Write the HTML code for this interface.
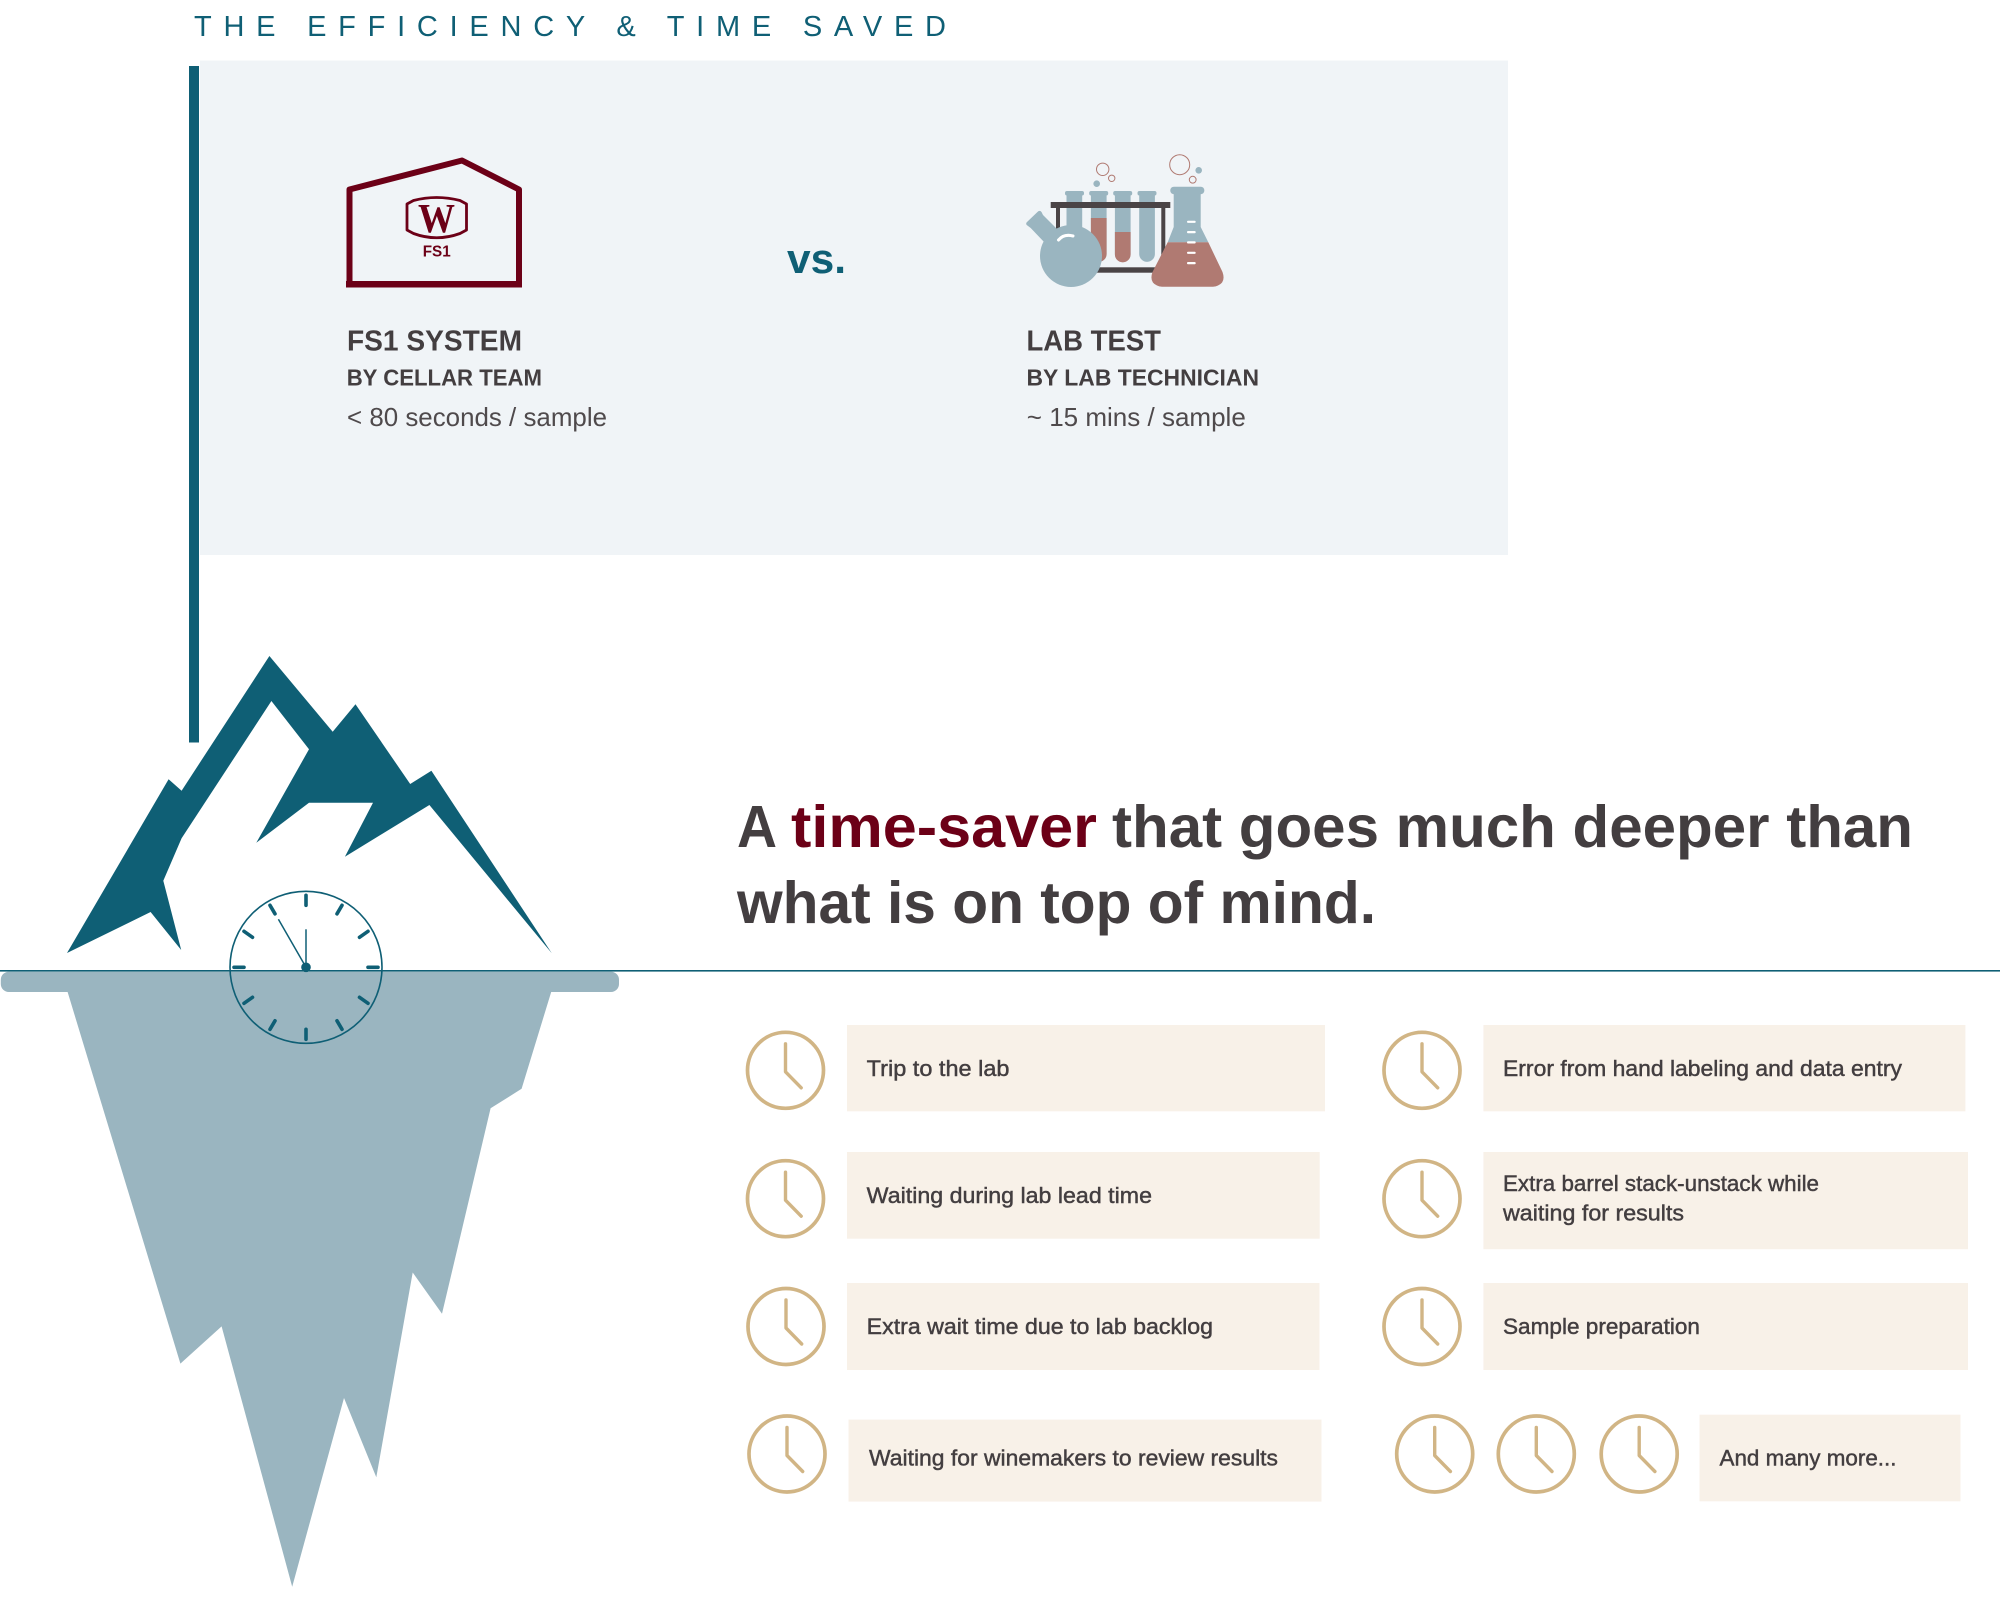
<!DOCTYPE html>
<html lang="en">
<head>
<meta charset="utf-8">
<title>The Efficiency &amp; Time Saved</title>
<style>
html,body{margin:0;padding:0;background:#fff;width:2000px;height:1600px;overflow:hidden}
svg{display:block;font-family:"Liberation Sans",sans-serif}
.ht{font-weight:700;font-size:59px;fill:#433e40}
.li{font-size:22px;fill:#433e40;stroke:#433e40;stroke-width:.45}
.h1{font-weight:700;font-size:29px;fill:#433e40}
.h2{font-weight:700;font-size:23px;fill:#433e40}
.h3{font-size:26px;fill:#4f4a4c}
</style>
</head>
<body>
<svg xmlns="http://www.w3.org/2000/svg" width="2000" height="1600" viewBox="0 0 2000 1600">
<defs>
<g id="ck" fill="none" stroke="#d1b585" stroke-linecap="round" stroke-linejoin="round">
<circle r="38" stroke-width="3.7"/>
<polyline points="0,-26.5 0,1.5 15.7,17.5" stroke-width="3.4"/>
</g>
</defs>

<text x="194" y="36" font-size="29" fill="#0f5f75" textLength="752" lengthAdjust="spacing">THE EFFICIENCY &amp; TIME SAVED</text>
<rect x="200" y="60.5" width="1308" height="494.5" fill="#f0f4f7"/>
<rect x="189" y="66" width="10" height="676.5" fill="#0f5f75"/>

<!-- FS1 house -->
<g fill="none" stroke="#6c0017" stroke-linejoin="round">
<polyline points="349.5,284 349.5,189.5 462,160.5 519,189.5 519,284" stroke-width="6"/>
<path d="M407,204 L413.5,200.5 Q436.5,194.5 460,200.5 L466.5,204 V230 L460,233.5 Q436.5,242 413.5,233.5 L407,230 Z" stroke-width="2.8"/>
</g>
<rect x="346" y="281" width="176" height="6.5" fill="#6c0017"/>
<text x="436.5" y="232" font-family="Liberation Serif" font-weight="700" font-size="41" fill="#6c0017" text-anchor="middle" textLength="37" lengthAdjust="spacingAndGlyphs">W</text>
<text x="422.7" y="256.5" font-weight="700" font-size="15.5" fill="#6c0017" textLength="28" lengthAdjust="spacingAndGlyphs">FS1</text>

<text x="347" y="350.5" class="h1" textLength="175" lengthAdjust="spacingAndGlyphs">FS1 SYSTEM</text>
<text x="346.7" y="385.7" class="h2" textLength="195.3" lengthAdjust="spacingAndGlyphs">BY CELLAR TEAM</text>
<text x="347" y="426" class="h3" textLength="260" lengthAdjust="spacingAndGlyphs">&lt; 80 seconds / sample</text>

<text x="787" y="273" font-weight="700" font-size="42" fill="#0f5f75" textLength="59" lengthAdjust="spacingAndGlyphs">vs.</text>

<!-- Lab icon -->
<g>
<rect x="1056" y="204" width="4" height="68" fill="#4a4446"/>
<rect x="1161.3" y="204" width="4" height="68" fill="#4a4446"/>
<rect x="1060" y="267.3" width="103" height="5.4" fill="#4a4446"/>
<!-- tubes -->
<g fill="#9ab5c0">
<rect x="1065" y="191" width="19" height="4.5" rx="2"/>
<rect x="1089.2" y="191" width="19" height="4.5" rx="2"/>
<rect x="1113.2" y="191" width="19" height="4.5" rx="2"/>
<rect x="1137.5" y="191" width="19" height="4.5" rx="2"/>
<path d="M1066.5,195 h15.7 v59 a7.85,7.85 0 0 1 -15.7,0 z"/>
<path d="M1090.9,195 h15.7 v59 a7.85,7.85 0 0 1 -15.7,0 z"/>
<path d="M1114.9,195 h15.7 v59 a7.85,7.85 0 0 1 -15.7,0 z"/>
<path d="M1139.2,195 h15.7 v59 a7.85,7.85 0 0 1 -15.7,0 z"/>
</g>
<path d="M1090.9,218 h15.7 v36 a7.85,7.85 0 0 1 -15.7,0 z" fill="#b07a72"/>
<path d="M1114.9,232 h15.7 v22.5 a7.85,7.85 0 0 1 -15.7,0 z" fill="#b07a72"/>
<rect x="1050.7" y="202" width="119.6" height="6" fill="#4a4446"/>
<!-- round flask -->
<circle cx="1071" cy="256" r="31" fill="#9ab5c0"/>
<path d="M1026.7,225 Q1025.5,223.5 1027,222 L1038,211.5 Q1040,210 1041.5,212 L1043,215 L1058,230 L1045,243 L1030.7,228 Z" fill="#9ab5c0"/>
<path d="M1058.5,240 Q1064,233.5 1073,236" fill="none" stroke="#fff" stroke-width="3" stroke-linecap="round"/>
<!-- Erlenmeyer -->
<path d="M1173.7,192 h27 v35 l7.6,15.3 h-40.6 l6,-15.3 z" fill="#9ab5c0"/>
<rect x="1170.3" y="186.7" width="34" height="7.5" rx="3.5" fill="#9ab5c0"/>
<path d="M1167.7,242.3 H1208.3 L1222.5,272 Q1226,282 1218,285.5 Q1216,286.7 1213,286.7 H1162 Q1159,286.7 1157,285.5 Q1149,282 1152.5,272 Z" fill="#b07a72"/>
<g fill="#fff">
<rect x="1187" y="220.7" width="8.7" height="2.2" rx="1"/>
<rect x="1187" y="231" width="8.7" height="2.2" rx="1"/>
<rect x="1187" y="241.3" width="8.7" height="2.2" rx="1"/>
<rect x="1187" y="251.7" width="8.7" height="2.2" rx="1"/>
<rect x="1187" y="262" width="8.7" height="2.2" rx="1"/>
</g>
<g fill="none" stroke="#b07a72" stroke-width="1">
<circle cx="1179.7" cy="164.7" r="10"/>
<circle cx="1192.7" cy="179.7" r="3.4"/>
<circle cx="1102.7" cy="169.3" r="6.2"/>
<circle cx="1111.7" cy="178.3" r="3.2"/>
</g>
<circle cx="1198.7" cy="170.3" r="3.3" fill="#9ab5c0"/>
<circle cx="1096.7" cy="183.7" r="3.3" fill="#9ab5c0"/>
</g>

<text x="1026.5" y="350.5" class="h1" textLength="134.5" lengthAdjust="spacingAndGlyphs">LAB TEST</text>
<text x="1026.5" y="385.7" class="h2" textLength="232.5" lengthAdjust="spacingAndGlyphs">BY LAB TECHNICIAN</text>
<text x="1026.8" y="426" class="h3" textLength="219" lengthAdjust="spacingAndGlyphs">~ 15 mins / sample</text>

<!-- Headline -->
<text x="737" y="847" class="ht" textLength="40" lengthAdjust="spacingAndGlyphs">A</text>
<text x="791" y="847" class="ht" style="fill:#6c0017" textLength="306" lengthAdjust="spacingAndGlyphs">time-saver</text>
<text x="1112" y="847" class="ht" textLength="801" lengthAdjust="spacingAndGlyphs">that goes much deeper than</text>
<text x="737" y="923" class="ht" textLength="639" lengthAdjust="spacingAndGlyphs">what is on top of mind.</text>

<!-- Iceberg -->
<polygon fill="#9ab5c0" points="67,990 551.8,990 521.6,1088.8 490.6,1108.3 442,1313.8 412.7,1272.5 376.3,1477.2 344,1398 292.2,1586.7 221.6,1326.4 180.4,1363.6"/>
<rect x="0.8" y="971.7" width="618.2" height="20.3" rx="8" fill="#9ab5c0"/>
<polygon fill="#0f5f75" points="67,953 168.6,779.3 181.6,790.7 269.4,656 332.7,731.7 355.5,704.3 410.2,784 431.4,770.7 551.8,953.3 429.4,805 344.9,856.7 373,802.7 309,802.7 256.3,842.7 309,749.3 271.4,701 181.6,838.3 163.3,880.7 181.2,950 150.6,912"/>
<rect x="0" y="970" width="2000" height="1.6" fill="#0f5f75"/>

<!-- Big clock -->
<g transform="translate(306,967.3)" fill="none" stroke="#0f5f75">
<circle r="76" stroke-width="1.6"/>
<g stroke-width="3.6" stroke-linecap="round">
<line x1="0" y1="-72" x2="0" y2="-62"/>
<line x1="36" y1="-62" x2="31" y2="-53.5"/>
<line x1="62" y1="-36" x2="53.5" y2="-30"/>
<line x1="72" y1="0" x2="62" y2="0"/>
<line x1="62" y1="36" x2="53.5" y2="30"/>
<line x1="36" y1="62" x2="31" y2="53.5"/>
<line x1="0" y1="72" x2="0" y2="62"/>
<line x1="-36" y1="62" x2="-31" y2="53.5"/>
<line x1="-62" y1="36" x2="-53.5" y2="30"/>
<line x1="-72" y1="0" x2="-62" y2="0"/>
<line x1="-62" y1="-36" x2="-53.5" y2="-30"/>
<line x1="-36" y1="-62" x2="-31" y2="-53.5"/>
</g>
<line x1="0" y1="0" x2="0" y2="-38" stroke-width="1.5"/>
<line x1="0" y1="0" x2="-27.6" y2="-48" stroke-width="1.5"/>
<circle r="4.8" fill="#0f5f75" stroke="none"/>
</g>

<!-- Cards -->
<g fill="#f8f1e8">
<rect x="847" y="1025" width="478" height="86.3"/>
<rect x="847" y="1152" width="472.7" height="86.7"/>
<rect x="847" y="1283" width="472.5" height="87"/>
<rect x="848.5" y="1419.6" width="473" height="82"/>
<rect x="1483.4" y="1025" width="482" height="86.3"/>
<rect x="1483.4" y="1152" width="484.6" height="97.2"/>
<rect x="1483.4" y="1283" width="484.6" height="87"/>
<rect x="1699.5" y="1414.7" width="261" height="86.6"/>
</g>

<use href="#ck" x="785.5" y="1070.3"/>
<use href="#ck" x="785.5" y="1198.7"/>
<use href="#ck" x="786" y="1326.5"/>
<use href="#ck" x="787" y="1454"/>
<use href="#ck" x="1422" y="1070.3"/>
<use href="#ck" x="1422" y="1198.7"/>
<use href="#ck" x="1422" y="1326.5"/>
<use href="#ck" x="1434.7" y="1454"/>
<use href="#ck" x="1536.3" y="1454"/>
<use href="#ck" x="1639.2" y="1454"/>

<text x="866.7" y="1076" class="li" textLength="142.8" lengthAdjust="spacingAndGlyphs">Trip to the lab</text>
<text x="866.7" y="1203" class="li" textLength="285.3" lengthAdjust="spacingAndGlyphs">Waiting during lab lead time</text>
<text x="866.7" y="1333.8" class="li" textLength="346.3" lengthAdjust="spacingAndGlyphs">Extra wait time due to lab backlog</text>
<text x="869" y="1465.5" class="li" textLength="409" lengthAdjust="spacingAndGlyphs">Waiting for winemakers to review results</text>
<text x="1503" y="1076" class="li" textLength="399" lengthAdjust="spacingAndGlyphs">Error from hand labeling and data entry</text>
<text x="1503" y="1191" class="li" textLength="316" lengthAdjust="spacingAndGlyphs">Extra barrel stack-unstack while</text>
<text x="1503" y="1220.6" class="li" textLength="181" lengthAdjust="spacingAndGlyphs">waiting for results</text>
<text x="1503" y="1333.8" class="li" textLength="197" lengthAdjust="spacingAndGlyphs">Sample preparation</text>
<text x="1719.5" y="1465.3" class="li" textLength="177" lengthAdjust="spacingAndGlyphs">And many more...</text>
</svg>
</body>
</html>
